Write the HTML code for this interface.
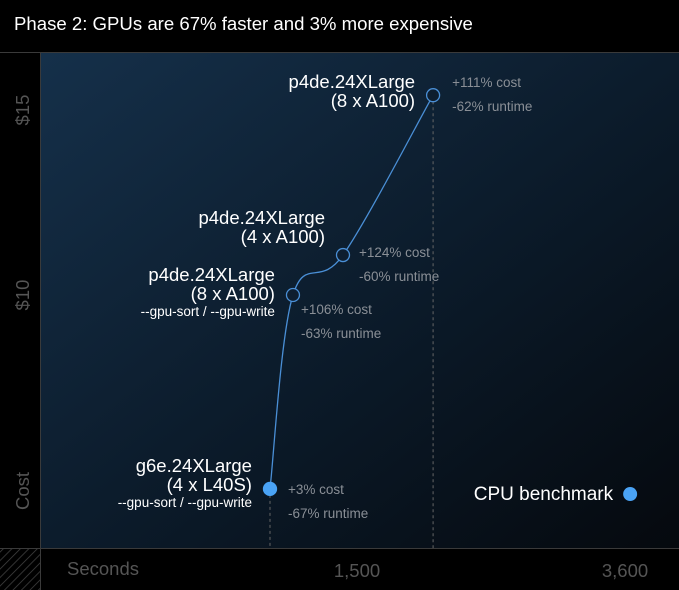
<!DOCTYPE html>
<html><head><meta charset="utf-8"><style>
html,body{margin:0;padding:0;background:#000}
svg{display:block}
text{font-family:"Liberation Sans",sans-serif}
</style></head><body>
<svg width="679" height="590" viewBox="0 0 679 590">
<defs>
<linearGradient id="bg" x1="0" y1="0" x2="1" y2="1">
<stop offset="0" stop-color="#15304a"/><stop offset="0.55" stop-color="#0b1a29"/><stop offset="1" stop-color="#05090e"/>
</linearGradient>
<pattern id="hatch" width="6" height="6" patternUnits="userSpaceOnUse" patternTransform="rotate(45)">
<line x1="0" y1="0" x2="0" y2="6" stroke="#444" stroke-width="1.5"/>
</pattern>
</defs>
<rect width="679" height="590" fill="#000"/>
<rect x="41" y="53" width="638" height="495" fill="url(#bg)"/>
<line x1="0" y1="52.5" x2="679" y2="52.5" stroke="#3a3a3a"/>
<line x1="40.5" y1="53" x2="40.5" y2="590" stroke="#3a3a3a"/>
<line x1="0" y1="548.5" x2="679" y2="548.5" stroke="#3a3a3a"/>
<rect x="0" y="549" width="40" height="41" fill="url(#hatch)"/>
<text x="14" y="30" fill="#fff" font-size="18.6">Phase 2: GPUs are 67% faster and 3% more expensive</text>
<text transform="translate(29,110) rotate(-90)" text-anchor="middle" fill="#555" font-size="18.5">$15</text>
<text transform="translate(29,295) rotate(-90)" text-anchor="middle" fill="#555" font-size="18.5">$10</text>
<text transform="translate(29,491) rotate(-90)" text-anchor="middle" fill="#555" font-size="18.5">Cost</text>
<text x="67" y="575" fill="#555" font-size="18.5">Seconds</text>
<g id="marks"></g>
</svg>
<script>
const names=["g6e.24XLarge","p4de.24XLarge","p4de.24XLarge","p4de.24XLarge"];
const subs=["(4 x L40S)","(8 x A100)","(4 x A100)","(8 x A100)"];
const flags=["--gpu-sort / --gpu-write","--gpu-sort / --gpu-write","",""];
const seconds=[818,998,1390,2096];
const costs=[4.76,10.0,11.08,15.4];
const costPct=["+3% cost","+106% cost","+124% cost","+111% cost"];
const runPct=["-67% runtime","-63% runtime","-60% runtime","-62% runtime"];
const cpuSeconds=3640;
const cpuCost=4.62;
const xTicks=[1500,3600];
const xTickLabels=["1,500","3,600"];
const NS="http://www.w3.org/2000/svg";
function X(s){return 165.6+s*0.12762;}
function Y(c){return 295-(c-10)*37;}
const g=document.getElementById('marks');
function mk(t,a,txt){const e=document.createElementNS(NS,t);for(const k in a)e.setAttribute(k,a[k]);if(txt!=null)e.textContent=txt;g.appendChild(e);return e;}
xTicks.forEach((v,i)=>{
 const t=mk('text',{x:X(v),y:577,'text-anchor':'middle',fill:'#555','font-size':18.5},xTickLabels[i]);
 
 
});
[0,3].forEach(i=>{
 const l=mk('line',{x1:X(seconds[i]),y1:Y(costs[i]),x2:X(seconds[i]),y2:548,stroke:'#666','stroke-dasharray':'3,3'});
 
 
});
const P=seconds.map((s,i)=>[X(s),Y(costs[i])]);
let d=`M${P[0][0]},${P[0][1]}`;
for(let i=0;i<P.length-1;i++){
 const p0=P[Math.max(0,i-1)],p1=P[i],p2=P[i+1],p3=P[Math.min(P.length-1,i+2)];
 const c1=[p1[0]+(p2[0]-p0[0])/6,p1[1]+(p2[1]-p0[1])/6];
 const c2=[p2[0]-(p3[0]-p1[0])/6,p2[1]-(p3[1]-p1[1])/6];
 d+=` C${c1[0]},${c1[1]} ${c2[0]},${c2[1]} ${p2[0]},${p2[1]}`;
}
const path=mk('path',{d:d,fill:'none',stroke:'#4a8fd6','stroke-width':1.3});


P.forEach((p,i)=>{
 const c=mk('circle',{cx:p[0],cy:p[1],r:6.5,fill:i==0?'#4aa3f5':'#0e1e2f',stroke:i==0?'#4aa3f5':'#4a8fd6','stroke-width':1.3});
 
 
 const rx=p[0]-18;
 let ty;
 if(i==3){ty=p[1]-7;}else if(i==2){ty=p[1]-31;}else if(i==1){ty=p[1]-14;}else{ty=p[1]-17;}
 const t1=mk('text',{x:rx,y:ty,'text-anchor':'end',fill:'#fff','font-size':18.5},names[i]);
 
 
 const t2=mk('text',{x:rx,y:ty+19,'text-anchor':'end',fill:'#fff','font-size':18.5},subs[i]);
 
 
 if(flags[i]){
  const t3=mk('text',{x:rx,y:ty+35,'text-anchor':'end',fill:'#fff','font-size':13.5},flags[i]);
  
  
 }
 const ax=p[0]+(i==0?18:i==1?8:i==2?16:19), ay=i==0?p[1]+5:i==1?p[1]+19:i==2?p[1]+2:p[1]-8;
 const a1=mk('text',{x:ax,y:ay,fill:'#8a8f96','font-size':13.5},costPct[i]);
 
 
 const a2=mk('text',{x:ax,y:ay+24,fill:'#8a8f96','font-size':13.5},runPct[i]);
 
 
});
const cp=mk('circle',{cx:X(cpuSeconds),cy:Y(cpuCost),r:7,fill:'#4aa3f5'});


const ct=mk('text',{x:X(cpuSeconds)-17,y:Y(cpuCost)+6,'text-anchor':'end',fill:'#fff','font-size':19},'CPU benchmark');


</script>
</body></html>
